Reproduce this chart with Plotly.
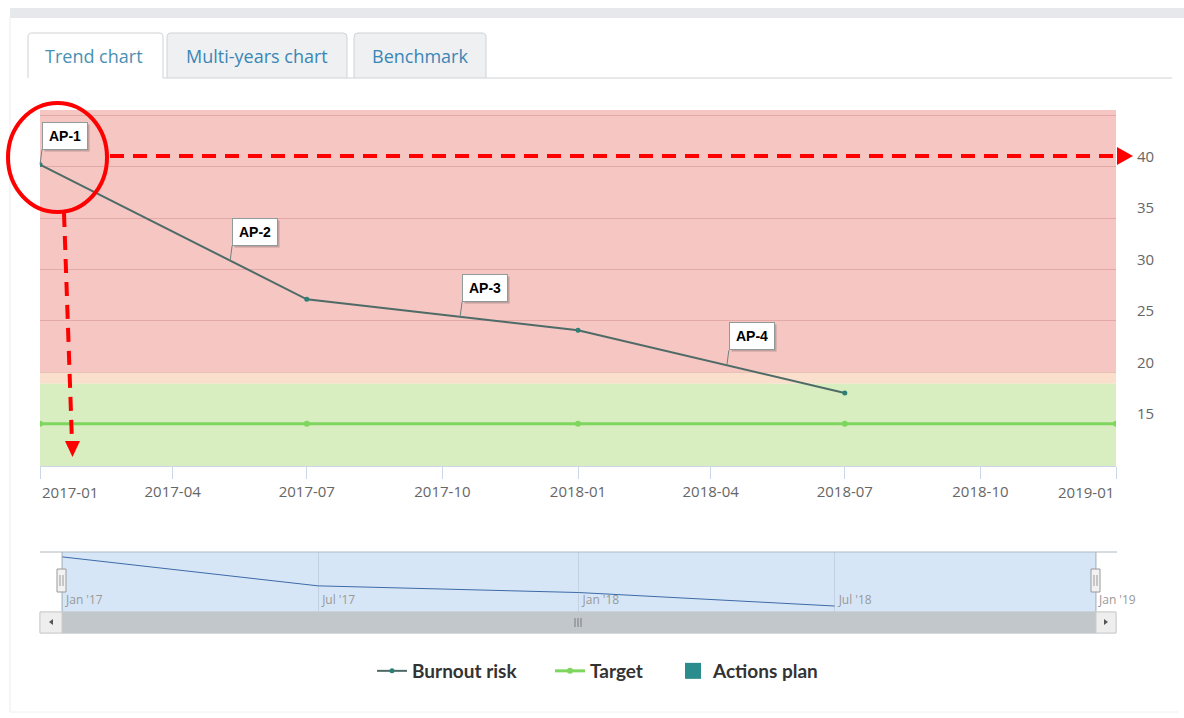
import numpy as np
import pandas as pd
import plotly.graph_objects as go

W, H = 1184, 718

# ---------------- data ----------------
dates = ["2017-01-01", "2017-07-01", "2018-01-01", "2018-07-01"]
burnout = [40.2, 27.1, 24.1, 18.0]

target_dates = ["2017-01-01", "2017-07-01", "2018-01-01", "2018-07-01", "2019-01-01"]
target = [15, 15, 15, 15, 15]

ap_labels = ["AP-1", "AP-2", "AP-3", "AP-4"]
ap_dates = ["2017-01-01", "2017-05-10", "2017-10-13", "2018-04-12"]

risk_zone_from = 20.0      # red band lower edge
warn_zone_from = 18.9      # thin peach band lower edge
y_min, y_max = 10.9, 45.5

y_ticks = [15, 20, 25, 30, 35, 40, 45]
y_ticktext = ["15", "20", "25", "30", "35", "40", ""]

x_ticks = ["2017-01-01", "2017-04-01", "2017-07-01", "2017-10-01", "2018-01-01",
           "2018-04-01", "2018-07-01", "2018-10-01", "2019-01-01"]
x_ticktext = ["2017-01", "2017-04", "2017-07", "2017-10", "2018-01",
              "2018-04", "2018-07", "2018-10", "2019-01"]

nav_ticks = ["2017-01-01", "2017-07-01", "2018-01-01", "2018-07-01", "2019-01-01"]
nav_ticktext = ["Jan '17", "Jul '17", "Jan '18", "Jul '18", "Jan '19"]

tabs = ["Trend chart", "Multi-years chart", "Benchmark"]

# ---------------- helpers (pixel -> paper) ----------------
def px(x):
    return x / W

def py(y):
    return 1 - y / H

def path(points):
    s = "M " + " L ".join(f"{px(x):.5f},{py(y):.5f}" for x, y in points) + " Z"
    return s

# flag anchor values on the burnout line (like flags placed "onSeries")
ts = pd.to_datetime(dates).astype("int64").to_numpy()
ap_ts = pd.to_datetime(ap_dates).astype("int64").to_numpy()
ap_vals = np.interp(ap_ts, ts, burnout)

# navigator x range: 2017-01-01 at px 62, 2019-01-01 at px 1095, axis spans 40..1116
d0, d1 = pd.Timestamp("2017-01-01"), pd.Timestamp("2019-01-01")
ppd = (1095 - 62) / (d1 - d0).days
nav_range = [d0 - pd.Timedelta(days=(62 - 40) / ppd), d1 + pd.Timedelta(days=(1116 - 1095) / ppd)]

FONT = "Open Sans"
BURN_C = "#4f6b67"
TARGET_C = "#7fd65e"
ACT_C = "#2a8c8c"

fig = go.Figure()

fig.add_trace(go.Scatter(
    x=target_dates, y=target, name="Target", mode="lines+markers", legend="legend2",
    line=dict(color=TARGET_C, width=3), marker=dict(color=TARGET_C, size=6),
    hoverinfo="skip"))

fig.add_trace(go.Scatter(
    x=dates, y=burnout, name="Burnout risk", mode="lines+markers", legend="legend",
    line=dict(color=BURN_C, width=2), marker=dict(color="#2e7f76", size=5),
    hoverinfo="skip"))

fig.add_trace(go.Scatter(
    x=ap_dates, y=[None] * len(ap_dates), name="Actions plan", mode="markers", legend="legend3",
    marker=dict(color=ACT_C, size=22, symbol="square"), hoverinfo="skip"))

# navigator series
fig.add_trace(go.Scatter(
    x=dates, y=burnout, xaxis="x2", yaxis="y2", mode="lines",
    line=dict(color="#3d6aa6", width=1), showlegend=False, hoverinfo="skip"))

shapes = []
# page frame
shapes.append(dict(type="rect", xref="paper", yref="paper", x0=px(10), x1=px(1184), y0=py(18), y1=py(8),
                   fillcolor="#e7e8ec", line=dict(width=0), layer="below"))
shapes.append(dict(type="line", xref="paper", yref="paper", x0=px(10), x1=px(10), y0=py(18), y1=py(712),
                   line=dict(color="#ececec", width=1), layer="below"))
shapes.append(dict(type="line", xref="paper", yref="paper", x0=px(10), x1=px(1178), y0=py(712), y1=py(712),
                   line=dict(color="#f0f0f0", width=1), layer="below"))
# tabs
tab_boxes = [(28, 163), (167, 347), (354, 486)]
for i, (a, b) in enumerate(tab_boxes):
    shapes.append(dict(type="path", xref="paper", yref="paper",
                       path=f"M {px(a):.5f},{py(78):.5f} L {px(a):.5f},{py(37):.5f} Q {px(a):.5f},{py(33):.5f} {px(a+4):.5f},{py(33):.5f} "
                            f"L {px(b-4):.5f},{py(33):.5f} Q {px(b):.5f},{py(33):.5f} {px(b):.5f},{py(37):.5f} L {px(b):.5f},{py(78):.5f}",
                       fillcolor="#ffffff" if i == 0 else "#eff0f2",
                       line=dict(color="#cfd2d6", width=1), layer="below"))
shapes.append(dict(type="line", xref="paper", yref="paper", x0=px(163), x1=px(1172), y0=py(78), y1=py(78),
                   line=dict(color="#cfd2d6", width=1), layer="below"))

# plot bands
shapes.append(dict(type="rect", xref="x domain", yref="y", x0=0, x1=1, y0=risk_zone_from, y1=y_max,
                   fillcolor="#f5c6c2", line=dict(width=0), layer="below"))
shapes.append(dict(type="rect", xref="x domain", yref="y", x0=0, x1=1, y0=warn_zone_from, y1=risk_zone_from,
                   fillcolor="#f9dfcc", line=dict(width=0), layer="below"))
shapes.append(dict(type="rect", xref="x domain", yref="y", x0=0, x1=1, y0=y_min, y1=warn_zone_from,
                   fillcolor="#d8eec0", line=dict(width=0), layer="below"))

# navigator selected region
shapes.append(dict(type="rect", xref="x2", yref="y2 domain", x0=d0, x1=d1, y0=0, y1=1,
                   fillcolor="#d6e6f7", line=dict(width=0), layer="below"))
# navigator outline
shapes.append(dict(type="line", xref="paper", yref="paper", x0=px(40), x1=px(1117), y0=py(552), y1=py(552),
                   line=dict(color="#aeb8c2", width=1)))
for xx in (62, 1096):
    shapes.append(dict(type="line", xref="paper", yref="paper", x0=px(xx), x1=px(xx), y0=py(552), y1=py(612),
                       line=dict(color="#aeb8c2", width=1)))
# scrollbar
shapes.append(dict(type="rect", xref="paper", yref="paper", x0=px(40), x1=px(1116), y0=py(633), y1=py(612),
                   fillcolor="#f2f2f2", line=dict(color="#d5d5d5", width=1)))
shapes.append(dict(type="rect", xref="paper", yref="paper", x0=px(62), x1=px(1096), y0=py(633), y1=py(612),
                   fillcolor="#c2c7cc", line=dict(color="#c2c7cc", width=1)))
for a, b in ((40, 62), (1096, 1116)):
    shapes.append(dict(type="rect", xref="paper", yref="paper", x0=px(a), x1=px(b), y0=py(633), y1=py(612),
                       fillcolor="#eeeeee", line=dict(color="#cccccc", width=1)))
shapes.append(dict(type="path", xref="paper", yref="paper", path=path([(53, 619), (53, 625), (49, 622)]),
                   fillcolor="#555", line=dict(width=0)))
shapes.append(dict(type="path", xref="paper", yref="paper", path=path([(1104, 619), (1104, 625), (1108, 622)]),
                   fillcolor="#555", line=dict(width=0)))
for gx in (575, 578, 581):
    shapes.append(dict(type="line", xref="paper", yref="paper", x0=px(gx), x1=px(gx), y0=py(618), y1=py(627),
                       line=dict(color="#7a7a7a", width=1)))
# navigator handles
for hx in (62, 1096):
    shapes.append(dict(type="rect", xref="paper", yref="paper", x0=px(hx - 5), x1=px(hx + 4), y0=py(592), y1=py(569),
                       fillcolor="#f2f2f2", line=dict(color="#9a9a9a", width=1)))
    for lx in (hx - 2, hx + 1):
        shapes.append(dict(type="line", xref="paper", yref="paper", x0=px(lx), x1=px(lx), y0=py(575), y1=py(586),
                           line=dict(color="#9a9a9a", width=1)))

# red hand-drawn call-outs
RED = "#ff0000"
shapes.append(dict(type="circle", xref="paper", yref="paper", x0=px(8), x1=px(107), y0=py(212), y1=py(103),
                   line=dict(color=RED, width=4)))
shapes.append(dict(type="line", xref="paper", yref="paper", x0=px(110), x1=px(1117), y0=py(156), y1=py(156),
                   line=dict(color=RED, width=4, dash="14px,9px")))
shapes.append(dict(type="path", xref="paper", yref="paper", path=path([(1117, 147), (1133, 156), (1117, 165)]),
                   fillcolor=RED, line=dict(width=0)))
shapes.append(dict(type="line", xref="paper", yref="paper", x0=px(64), x1=px(72), y0=py(213), y1=py(442),
                   line=dict(color=RED, width=4, dash="14px,9px")))
shapes.append(dict(type="path", xref="paper", yref="paper", path=path([(65, 441), (80, 441), (72.5, 457)]),
                   fillcolor=RED, line=dict(width=0)))

annotations = []
tab_centers = [94, 257, 420]
tab_colors = ["#4a90b4", "#3a86b6", "#3a86b6"]
for t, cx, c in zip(tabs, tab_centers, tab_colors):
    annotations.append(dict(x=px(cx), y=py(56), xref="paper", yref="paper", text=t, showarrow=False,
                            xanchor="center", yanchor="middle",
                            font=dict(family=FONT, size=18, color=c)))

# edge x-axis labels (kept inside the plot width, as in the original)
TICKFONT = dict(family=FONT, size=15, color="#666666")
annotations.append(dict(x=x_ticks[0], y=py(492), xref="x", yref="paper", text=x_ticktext[0],
                        showarrow=False, xanchor="left", yanchor="middle", xshift=0, font=TICKFONT))
annotations.append(dict(x=x_ticks[-1], y=py(492), xref="x", yref="paper", text=x_ticktext[-1],
                        showarrow=False, xanchor="right", yanchor="middle", xshift=0, font=TICKFONT))
axis_ticktext = [""] + x_ticktext[1:-1] + [""]

# flags (shadow + box)
for lab, d, v in zip(ap_labels, ap_dates, ap_vals):
    common = dict(x=d, y=v, xref="x", yref="y", showarrow=True, arrowhead=0, arrowwidth=1,
                  ax=2, ay=-15, xanchor="left", yanchor="bottom", borderwidth=1, borderpad=4,
                  width=36, height=18)
    annotations.append(dict(**common, text=f"<b>{lab}</b>", arrowcolor="rgba(0,0,0,0)",
                            bgcolor="rgba(60,60,60,0.28)", bordercolor="rgba(0,0,0,0)",
                            xshift=2, yshift=-2,
                            font=dict(family="Liberation Sans", size=14, color="rgba(0,0,0,0)")))
    annotations.append(dict(**common, text=f"<b>{lab}</b>", arrowcolor="#6f8280",
                            bgcolor="#ffffff", bordercolor="#8f9a99",
                            font=dict(family="Liberation Sans", size=14, color="#000000")))

LEGFONT = dict(family="Lato", size=19, color="#333333", weight="bold")
def legend_at(xpix):
    return dict(orientation="h", x=px(xpix), xanchor="left", y=py(671), yanchor="middle",
                font=LEGFONT, itemwidth=30, itemclick=False, itemdoubleclick=False,
                bgcolor="rgba(0,0,0,0)", borderwidth=0)

fig.update_layout(
    width=W, height=H,
    margin=dict(l=0, r=0, t=0, b=0, autoexpand=False),
    paper_bgcolor="#ffffff", plot_bgcolor="rgba(0,0,0,0)",
    showlegend=True,
    legend=legend_at(372),
    legend2=legend_at(550),
    legend3=legend_at(673),
    xaxis=dict(domain=[px(40), px(1116)], range=["2017-01-01", "2019-01-01"], type="date",
               tickvals=x_ticks, ticktext=axis_ticktext,
               ticks="outside", ticklen=12, tickcolor="#ccd6eb", showline=True, linecolor="#ccd6eb",
               showgrid=False, zeroline=False, fixedrange=True, automargin=False,
               tickfont=TICKFONT, anchor="y"),
    yaxis=dict(domain=[py(466), py(110)], range=[y_min, y_max], side="right",
               tickvals=y_ticks, ticktext=y_ticktext, ticks="", showline=False, zeroline=False,
               showgrid=True, gridcolor="rgba(160,70,70,0.22)", gridwidth=1,
               ticklabelstandoff=20, ticklabelshift=-10, fixedrange=True, automargin=False,
               tickfont=TICKFONT, anchor="x"),
    xaxis2=dict(domain=[px(40), px(1116)], range=nav_range, type="date", anchor="y2",
                tickvals=nav_ticks, ticktext=nav_ticktext, ticklabelposition="inside right",
                ticklabelshift=4, ticklabeloverflow="allow",
                ticks="", showline=False, showgrid=True, gridcolor="#c3d2e2", zeroline=False,
                fixedrange=True, automargin=False, tickfont=dict(family=FONT, size=12, color="#999999")),
    yaxis2=dict(domain=[py(612), py(552)], range=[15.3, 42.4], visible=False, fixedrange=True,
                automargin=False, anchor="x2"),
    shapes=shapes,
    annotations=annotations,
    hovermode=False,
)

fig.write_html("out.html", config={"displayModeBar": False},
               post_script="document.body.style.margin='0';document.body.style.overflow='hidden';")
